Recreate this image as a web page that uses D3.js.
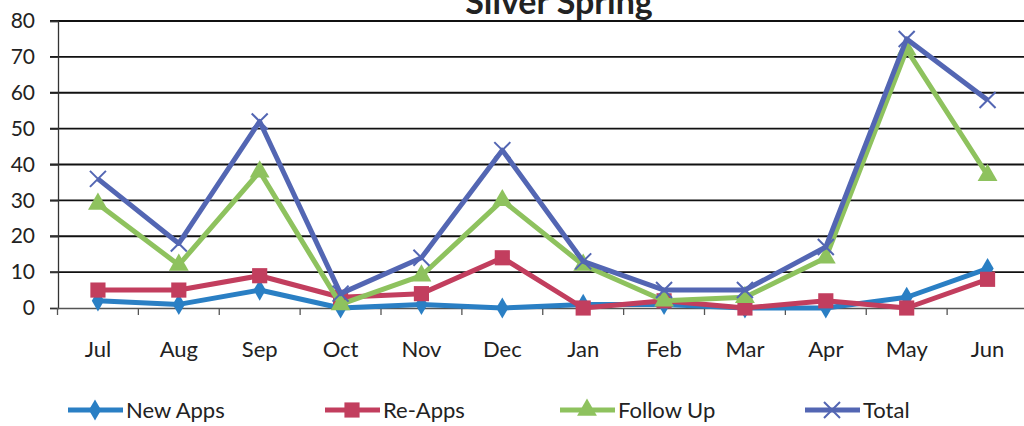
<!DOCTYPE html>
<html>
<head>
<meta charset="utf-8">
<script src="https://cdn.jsdelivr.net/npm/d3@7"></script>
<style>
  html, body { margin: 0; padding: 0; background: #fff; }
  svg { display: block; font-family: Lato, "Open Sans", sans-serif; }
</style>
</head>
<body>
<div id="chart"></div>
<script>
const months = ["Jul", "Aug", "Sep", "Oct", "Nov", "Dec", "Jan", "Feb", "Mar", "Apr", "May", "Jun"];
const newApps = [2, 1, 5, 0, 1, 0, 1, 1, 0, 0, 3, 11];
const reApps = [5, 5, 9, 3, 4, 14, 0, 2, 0, 2, 0, 8];
const followUp = [29, 12, 38, 1, 9, 30, 12, 2, 3, 14, 72, 37];
const total = [36, 18, 52, 4, 14, 44, 13, 5, 5, 17, 75, 58];
const yTicks = [0, 10, 20, 30, 40, 50, 60, 70, 80];

const series = [
  { name: "New Apps", values: newApps, color: "#2a7fc4", marker: "diamond" },
  { name: "Re-Apps", values: reApps, color: "#c23e5e", marker: "square" },
  { name: "Follow Up", values: followUp, color: "#8ec25e", marker: "triangle" },
  { name: "Total", values: total, color: "#5366b3", marker: "cross" }
];

const width = 1024, height = 426;
const svg = d3.select("#chart").append("svg")
  .attr("width", width)
  .attr("height", height);

const x = d3.scaleBand().domain(months).range([57.5, 1028]);
const y = d3.scaleLinear().domain([0, 80]).range([308, 21]);
const cx = d => x(d) + x.bandwidth() / 2;

// title, cut off at the top as in the scan
svg.append("text")
  .attr("x", 559)
  .attr("y", 14)
  .attr("text-anchor", "middle")
  .attr("font-weight", "bold")
  .attr("font-size", 34)
  .attr("fill", "#222")
  .text("Silver Spring");

// gridlines
svg.append("g")
  .selectAll("line")
  .data(yTicks.filter(d => d > 0))
  .join("line")
    .attr("x1", 50)
    .attr("x2", width)
    .attr("y1", d => y(d))
    .attr("y2", d => y(d))
    .attr("stroke", "#111")
    .attr("stroke-width", 1.8);

// y axis
const yAxis = svg.append("g")
  .attr("transform", "translate(58,0)")
  .call(d3.axisLeft(y).tickValues(yTicks).tickSize(8).tickPadding(15));
yAxis.select(".domain").attr("stroke", "#333").attr("stroke-width", 1.3);
yAxis.selectAll(".tick line").attr("stroke", "#333").attr("stroke-width", 1.3);
yAxis.selectAll(".tick text")
  .attr("font-size", 21)
  .attr("font-family", "Lato, 'Open Sans', sans-serif")
  .attr("fill", "#222");

// x axis
const xAxis = svg.append("g")
  .attr("transform", `translate(0,${y(0)})`)
  .call(d3.axisBottom(x).tickSize(0).tickPadding(33));
xAxis.select(".domain").attr("stroke", "#555").attr("stroke-width", 1.3);
xAxis.selectAll(".tick text")
  .attr("font-size", 22)
  .attr("font-family", "Lato, 'Open Sans', sans-serif")
  .attr("fill", "#222");
// tick marks at category boundaries
svg.append("g")
  .selectAll("line")
  .data(months)
  .join("line")
    .attr("x1", d => x(d))
    .attr("x2", d => x(d))
    .attr("y1", y(0))
    .attr("y2", y(0) + 7)
    .attr("stroke", "#555")
    .attr("stroke-width", 1.3);

const markerPath = {
  diamond: d3.symbol(d3.symbolDiamond, 130)(),
  square: d3.symbol(d3.symbolSquare, 230)(),
  triangle: d3.symbol(d3.symbolTriangle, 170)(),
  cross: "M-8,-8L8,8M-8,8L8,-8"
};

const line = d3.line()
  .x((d, i) => cx(months[i]))
  .y(d => y(d));

const g = svg.append("g");
series.forEach(s => {
  g.append("path")
    .datum(s.values)
    .attr("fill", "none")
    .attr("stroke", s.color)
    .attr("stroke-width", 5)
    .attr("stroke-linejoin", "round")
    .attr("d", line);
  g.append("g")
    .selectAll("path")
    .data(s.values)
    .join("path")
      .attr("transform", (d, i) => `translate(${cx(months[i])},${y(d)})`)
      .attr("d", markerPath[s.marker])
      .attr("fill", s.marker === "cross" ? "none" : s.color)
      .attr("stroke", s.color)
      .attr("stroke-width", s.marker === "cross" ? 2 : 0);
});

// legend
const legendX = [68, 325, 560, 805];
const legend = svg.append("g")
  .selectAll("g")
  .data(series)
  .join("g")
    .attr("transform", (d, i) => `translate(${legendX[i]},410)`);
legend.append("line")
  .attr("x1", 0).attr("x2", 55)
  .attr("stroke", d => d.color)
  .attr("stroke-width", 5);
legend.append("path")
  .attr("transform", "translate(27,0)")
  .attr("d", d => markerPath[d.marker])
  .attr("fill", d => d.marker === "cross" ? "none" : d.color)
  .attr("stroke", d => d.color)
  .attr("stroke-width", d => d.marker === "cross" ? 2 : 0);
legend.append("text")
  .attr("x", 58)
  .attr("dy", "0.35em")
  .attr("font-size", 22)
  .attr("fill", "#222")
  .text(d => d.name);
</script>
</body>
</html>
